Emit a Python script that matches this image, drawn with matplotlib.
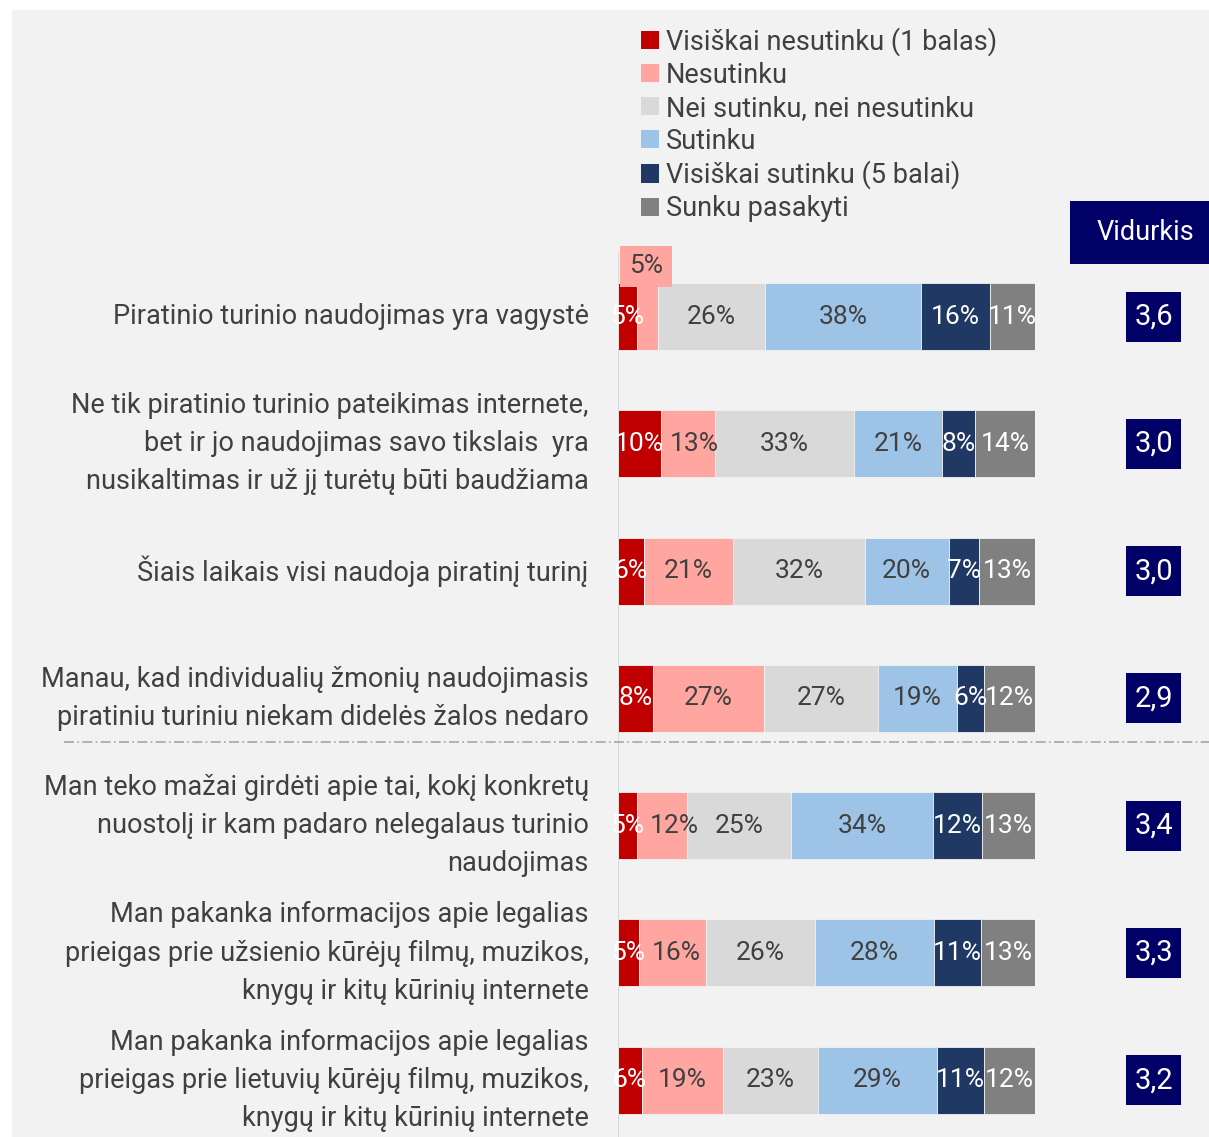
import matplotlib
matplotlib.use('Agg')
from matplotlib import pyplot as plt
from matplotlib.patches import Patch, Rectangle
from matplotlib import transforms

plt.rcParams['font.family'] = ['Roboto', 'DejaVu Sans']

# Chart data
statements = [
    'Piratinio turinio naudojimas yra vagystė',
    'Ne tik piratinio turinio pateikimas internete,\nbet ir jo naudojimas savo tikslais  yra\n'
    'nusikaltimas ir už jį turėtų būti baudžiama',
    'Šiais laikais visi naudoja piratinį turinį',
    'Manau, kad individualių žmonių naudojimasis\npiratiniu turiniu niekam didelės žalos nedaro',
    'Man teko mažai girdėti apie tai, kokį konkretų\nnuostolį ir kam padaro nelegalaus turinio\nnaudojimas',
    'Man pakanka informacijos apie legalias\nprieigas prie užsienio kūrėjų filmų, muzikos,\n'
    'knygų ir kitų kūrinių internete',
    'Man pakanka informacijos apie legalias\nprieigas prie lietuvių kūrėjų filmų, muzikos,\n'
    'knygų ir kitų kūrinių internete',
]

series_names = [
    'Visiškai nesutinku (1 balas)',
    'Nesutinku',
    'Nei sutinku, nei nesutinku',
    'Sutinku',
    'Visiškai sutinku (5 balai)',
    'Sunku pasakyti',
]

strongly_disagree = [4.6, 10.4, 6.2, 8.4, 4.6, 5.1, 5.8]
disagree = [5.0, 12.8, 21.4, 26.6, 12.0, 16.0, 19.4]
neutral = [25.6, 33.4, 31.6, 27.4, 24.9, 26.2, 22.7]
agree = [37.5, 21.1, 20.1, 18.9, 34.1, 28.4, 28.6]
strongly_agree = [16.4, 7.9, 7.4, 6.4, 11.7, 11.4, 11.3]
hard_to_say = [10.9, 14.4, 13.3, 12.3, 12.7, 12.9, 12.2]

averages = ['3,6', '3,0', '3,0', '2,9', '3,4', '3,3', '3,2']

series = [strongly_disagree, disagree, neutral, agree, strongly_agree, hard_to_say]
colors = ['#C00000', '#FFA6A0', '#D9D9D9', '#9DC3E6', '#1F3864', '#808080']
text_colors = ['white', '#404040', '#404040', '#404040', 'white', 'white']

W, H = 1209, 1137
fig = plt.figure(figsize=(W / 100, H / 100), dpi=100)
fig.patch.set_facecolor('white')
fig.patches.append(Rectangle((12 / W, 0), 1, (H - 10) / H, transform=fig.transFigure,
                             facecolor='#F2F2F2', edgecolor='none', zorder=-10))

# Main bar axes: pixels 617.7..1035 horizontally, 252..1137 vertically
row_px = 127.3
top_px, first_px = 252, 316.5
y_top = (top_px - first_px) / row_px
y_bot = (H - first_px) / row_px
ax_w_px = 1035 - 617.7
ax = fig.add_axes([617.7 / W, 0, ax_w_px / W, (H - top_px) / H])
ax.set_xlim(0, 100)
ax.set_ylim(y_bot, y_top)
ax.axis('off')
ax.patch.set_alpha(0)

rows = list(range(len(statements)))
bar_h = 67 / row_px
left = [0.0] * len(rows)
labels = []
for k, (vals, col, tcol) in enumerate(zip(series, colors, text_colors)):
    ax.barh(rows, vals, left=left, height=bar_h, color=col, edgecolor='#F2F2F2',
            linewidth=0.6, zorder=2)
    row_labels = []
    for i, v in enumerate(vals):
        if i == 0 and k == 1:
            # small segment: label moved above the bar
            t = ax.text(left[i] + v / 2 - 0.3, i - 0.393, f'{v:.0f}%', ha='center',
                        va='center', fontsize=19, color='#404040', zorder=4, clip_on=False,
                        bbox=dict(boxstyle='square,pad=0.33', facecolor=col, edgecolor='none'))
            row_labels.append(None)
        else:
            t = ax.text(left[i] + v / 2, i, f'{v:.0f}%', ha='center', va='center',
                        fontsize=19, color=tcol, zorder=3)
            row_labels.append(t)
    labels.append(row_labels)
    left = [a + b for a, b in zip(left, vals)]

# push the "Nesutinku" labels clear of the narrow red labels
fig.canvas.draw()
renderer = fig.canvas.get_renderer()
for i in rows:
    red_t, pink_t = labels[0][i], labels[1][i]
    if pink_t is None:
        continue
    r_ext = red_t.get_window_extent(renderer)
    p_ext = pink_t.get_window_extent(renderer)
    shift = r_ext.x1 + 6 - p_ext.x0
    if shift > 0:
        x, y = pink_t.get_position()
        pink_t.set_position((x + shift * 100 / ax_w_px, y))

ax.axvline(0, color='#D9D9D9', linewidth=1.5, zorder=1)

for i, s in enumerate(statements):
    ax.annotate(s, xy=(0, i), xytext=(-29, 0), textcoords='offset pixels',
                ha='right', va='center', fontsize=19.5, color='#404040',
                linespacing=1.53, multialignment='right')

# dash-dot separator between the two statement groups
sep_y = (742 - first_px) / row_px
tr = transforms.blended_transform_factory(fig.transFigure, ax.transData)
ax.plot([64 / W, 1.0], [sep_y, sep_y], transform=tr, color='#A6A6A6',
        linestyle=(0, (6, 2, 1, 2)), linewidth=1.2, clip_on=False)

# Average column
ax2 = fig.add_axes([1070 / W, 0, (W - 1070) / W, (H - top_px) / H])
ax2.set_xlim(0, W - 1070)
ax2.set_ylim(y_bot, y_top)
ax2.axis('off')
ax2.patch.set_alpha(0)
ax2.barh(rows, 55, left=56, height=50 / row_px, color='#000066')
for i, a in enumerate(averages):
    ax2.text(83.5, i, a, ha='center', va='center', fontsize=21, color='white')
hdr_top = (201 - first_px) / row_px
hdr_bot = (264 - first_px) / row_px
ax2.add_patch(Rectangle((0, hdr_top), W - 1070, hdr_bot - hdr_top, facecolor='#000066',
                        edgecolor='none', clip_on=False))
ax2.text(75, (hdr_top + hdr_bot) / 2, 'Vidurkis', ha='center', va='center',
         fontsize=19.5, color='white', clip_on=False)

# Legend
handles = [Patch(facecolor=c, edgecolor='none') for c in colors]
fig.legend(handles, series_names, loc='upper left', bbox_to_anchor=(641 / W, 1 - 27 / H),
           frameon=False, fontsize=19.5, handlelength=0.66, handleheight=0.66,
           handletextpad=0.27, labelspacing=0.22, borderaxespad=0, borderpad=0,
           labelcolor='#404040')

fig.savefig('out.png', dpi=100, facecolor=fig.get_facecolor())
